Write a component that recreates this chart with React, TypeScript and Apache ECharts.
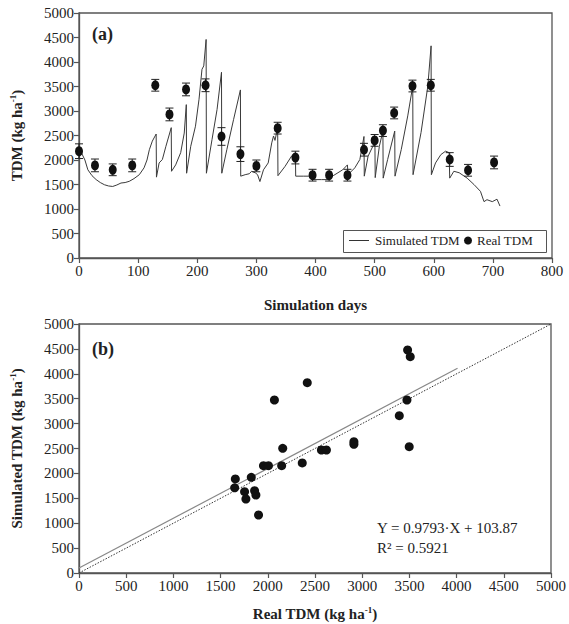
import React, { useEffect, useRef } from "react";
import * as echarts from "echarts";

// ---- Panel (a): simulated TDM over simulation days ----
const simDays = [
  0, 4, 10, 15, 22, 29, 36, 43, 50, 57, 64, 71, 78, 85, 93, 102, 110, 115, 119, 124, 130.5,
  131, 135.5, 141, 147, 152, 156,
  156.5, 163.5, 172, 178, 181.5,
  182, 189, 197, 203, 208, 211, 215,
  215.5, 225, 233.5, 241,
  241.5, 250, 261.5, 273,
  273.5, 281, 288, 292, 298, 302, 306, 312, 320, 326, 329, 331.5, 336,
  336.5, 348.5, 359.5, 366,
  366.5, 380, 388, 396, 410, 421, 430, 438, 446, 454,
  455, 466.5, 475, 482,
  482.5, 489, 497, 500.5,
  501, 508, 514,
  514.5, 522, 534,
  534.5, 545, 556, 564.5,
  565, 578.5, 590, 595.5,
  596, 603, 612, 620, 626,
  627, 634, 643, 656.5, 668, 679, 685, 690, 699, 707, 712,
];
const simValues = [
  2050, 2150, 2000, 1800, 1680, 1600, 1540, 1495, 1470, 1460, 1490, 1530, 1540, 1565, 1620, 1700, 1840, 2000, 2210, 2385, 2530,
  1650, 1940, 2010, 2280, 2490, 2660,
  1770, 1900, 2150, 2550, 3130,
  1730, 2280, 2690, 3240, 3850, 3920, 4460,
  1730, 2420, 3030, 3790,
  1730, 2210, 2830, 3430,
  1670, 1700, 1720, 1770, 1740, 1700, 1560, 1800, 1940, 2350, 2490, 2400, 2660,
  1680, 1870, 2080, 2150,
  1670, 1670, 1670, 1600, 1600, 1600, 1680, 1740, 1800, 1900,
  1700, 1840, 2010, 2480,
  1670, 2080, 2280, 2350,
  1640, 2280, 2590,
  1630, 2010, 2590,
  1670, 2210, 2900, 3510,
  1700, 2560, 3510, 4330,
  1700, 1940, 2110, 2180, 2150,
  1630, 1770, 1740, 1630, 1500, 1360, 1150, 1190, 1150, 1200, 1060,
];

// ---- Panel (a): measured TDM with error ----
const realDays = [0, 27, 57, 90, 129, 153, 181, 214, 241, 273, 300, 336, 366, 395, 423, 454, 482, 500, 514, 533, 564, 595, 627, 658, 702];
const realValues = [2180, 1890, 1800, 1890, 3525, 2930, 3440, 3525, 2480, 2120, 1880, 2650, 2050, 1690, 1690, 1690, 2210, 2400, 2600, 2960, 3510, 3525, 2010, 1790, 1950];
const realErrors = [150, 130, 120, 130, 120, 130, 130, 130, 180, 150, 120, 120, 130, 120, 120, 120, 130, 120, 120, 120, 120, 120, 140, 120, 130];

// ---- Panel (b): real vs simulated ----
const scatterReal = [1656, 1649, 1754, 1768, 1825, 1860, 1874, 1902, 1954, 2007, 2070, 2147, 2158, 2365, 2418, 2568, 2621, 2912, 2912, 3393, 3474, 3481, 3509, 3498];
const scatterSim = [1888, 1710, 1633, 1486, 1922, 1653, 1566, 1165, 2155, 2155, 3474, 2155, 2504, 2210, 3821, 2470, 2470, 2637, 2584, 3159, 3474, 4478, 4344, 2537];

const regLineX = [0, 4010];
const regLineY = [100, 4110];
const oneToOneX = [0, 5000];
const oneToOneY = [0, 5000];

const xTicksA = { min: 0, max: 800, interval: 100 };
const yTicks = { min: 0, max: 5000, interval: 500 };
const xTicksB = { min: 0, max: 5000, interval: 500 };

const FONT = "Liberation Serif";
const AXIS_COLOR = "#555";
const TEXT_COLOR = "#222";

function axisBase() {
  return {
    type: "value" as const,
    axisLine: { show: true, lineStyle: { color: AXIS_COLOR, width: 1.3 } },
    axisTick: { show: true, length: 5, lineStyle: { color: AXIS_COLOR, width: 1.2 } },
    axisLabel: { fontSize: 15, color: TEXT_COLOR, fontFamily: FONT, margin: 5, formatter: (v: number) => String(v) },
    splitLine: { show: false },
    nameLocation: "middle" as const,
    nameTextStyle: {
      rich: {
        t: { fontWeight: "bold", fontSize: 15, fontFamily: FONT, color: TEXT_COLOR, lineHeight: 18 },
        s: { fontWeight: "bold", fontSize: 9, fontFamily: FONT, color: TEXT_COLOR, lineHeight: 10, verticalAlign: "top" },
      },
    },
  };
}

export default function App() {
  const ref = useRef<HTMLDivElement>(null);
  useEffect(() => {
    document.body.style.margin = "0";
    if (!ref.current) return;
    const chart = echarts.init(ref.current, undefined, { renderer: "svg" });
    const option: any = {
      animation: false,
      backgroundColor: "#fff",
      textStyle: { fontFamily: FONT },
      grid: [
        { left: 76, top: 13, width: 476, height: 245, show: true, borderColor: AXIS_COLOR, borderWidth: 1.3, backgroundColor: "transparent" },
        { left: 76, top: 324, width: 475, height: 249, show: true, borderColor: AXIS_COLOR, borderWidth: 1.3, backgroundColor: "transparent" },
      ],
      xAxis: [
        { ...axisBase(), gridIndex: 0, ...xTicksA, name: "{t|Simulation days}", nameGap: 38 },
        { ...axisBase(), gridIndex: 1, ...xTicksB, name: "{t|Real TDM (kg ha}{s|-1}{t|)}", nameGap: 32 },
      ],
      yAxis: [
        { ...axisBase(), gridIndex: 0, ...yTicks, name: "{t|TDM (kg ha}{s|-1}{t|)}", nameGap: 53 },
        { ...axisBase(), gridIndex: 1, ...yTicks, name: "{t|Simulated TDM (kg ha}{s|-1}{t|)}", nameGap: 53 },
      ],
      legend: [
        {
          data: [{ name: "Simulated TDM", icon: "rect", itemStyle: { color: "#333" } }],
          left: 349, top: 234, padding: 0, itemWidth: 20, itemHeight: 1, itemGap: 5,
          textStyle: { fontSize: 13, fontFamily: FONT, color: TEXT_COLOR, padding: [0, 0, 0, 1] }, selectedMode: false,
        },
        {
          data: [{ name: "Real TDM", icon: "circle" }],
          left: 464, top: 234, padding: 0, itemWidth: 8, itemHeight: 8,
          textStyle: { fontSize: 13, fontFamily: FONT, color: TEXT_COLOR }, selectedMode: false,
        },
      ],
      series: [
        {
          type: "line", name: "Simulated TDM", xAxisIndex: 0, yAxisIndex: 0,
          data: simDays.map((d, i) => [d, simValues[i]]),
          symbol: "none", lineStyle: { color: "#3a3a3a", width: 1 }, itemStyle: { color: "#3a3a3a" }, z: 2,
        },
        {
          type: "custom", name: "err", xAxisIndex: 0, yAxisIndex: 0, z: 3,
          encode: { x: 0, y: 1 },
          data: realDays.map((d, i) => [d, realValues[i], realErrors[i]]),
          renderItem: (params: any, api: any) => {
            const x = api.value(0), y = api.value(1), e = api.value(2);
            const top = api.coord([x, y + e]);
            const bot = api.coord([x, y - e]);
            const w = 4;
            const st = { stroke: "#222", lineWidth: 1 };
            return {
              type: "group",
              children: [
                { type: "line", shape: { x1: top[0], y1: top[1], x2: bot[0], y2: bot[1] }, style: st },
                { type: "line", shape: { x1: top[0] - w, y1: top[1], x2: top[0] + w, y2: top[1] }, style: st },
                { type: "line", shape: { x1: bot[0] - w, y1: bot[1], x2: bot[0] + w, y2: bot[1] }, style: st },
              ],
            };
          },
        },
        {
          type: "scatter", name: "Real TDM", xAxisIndex: 0, yAxisIndex: 0, z: 4,
          data: realDays.map((d, i) => [d, realValues[i]]),
          symbol: "circle", symbolSize: [8, 10], itemStyle: { color: "#111", opacity: 1 },
        },
        {
          type: "line", name: "1:1", xAxisIndex: 1, yAxisIndex: 1,
          data: oneToOneX.map((x, i) => [x, oneToOneY[i]]),
          symbol: "none", lineStyle: { color: "#333", width: 1, type: [1.5, 1.5] }, z: 2,
        },
        {
          type: "line", name: "Regression", xAxisIndex: 1, yAxisIndex: 1,
          data: regLineX.map((x, i) => [x, regLineY[i]]),
          symbol: "none", lineStyle: { color: "#888", width: 1.2 }, z: 2,
        },
        {
          type: "scatter", name: "Pairs", xAxisIndex: 1, yAxisIndex: 1, z: 4,
          data: scatterReal.map((x, i) => [x, scatterSim[i]]),
          symbol: "circle", symbolSize: 9, itemStyle: { color: "#111", opacity: 1 },
        },
      ],
      graphic: [
        { type: "rect", left: 343, top: 230, shape: { width: 203, height: 22 }, style: { fill: "#fff", stroke: "#555", lineWidth: 1 }, z: 1 },
        { type: "text", left: 92, top: 25, style: { text: "(a)", font: `bold 18px "${FONT}"`, fill: TEXT_COLOR } },
        { type: "text", left: 92, top: 340, style: { text: "(b)", font: `bold 18px "${FONT}"`, fill: TEXT_COLOR } },
        { type: "text", left: 377, top: 520, style: { text: "Y = 0.9793·X + 103.87", font: `15px "${FONT}"`, fill: TEXT_COLOR } },
        { type: "text", left: 377, top: 540, style: { text: "R² = 0.5921", font: `15px "${FONT}"`, fill: TEXT_COLOR } },
      ],
    };
    chart.setOption(option);
    return () => chart.dispose();
  }, []);
  return <div ref={ref} style={{ position: "absolute", left: 0, top: 0, width: 569, height: 624 }} />;
}
